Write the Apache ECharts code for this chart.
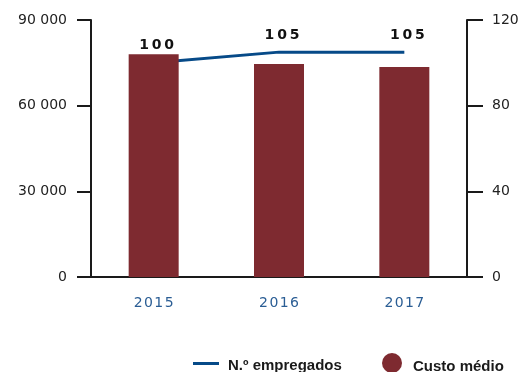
<!DOCTYPE html>
<html>
<head>
<meta charset="utf-8">
<script src="https://cdn.jsdelivr.net/npm/echarts@6/dist/echarts.min.js"></script>
<style>
  html, body { margin: 0; padding: 0; background: #fff; }
  #chart { width: 526px; height: 372px; }
</style>
</head>
<body>
<div id="chart"></div>
<script>
// Average cost per employee and headcount, 2015–2017
const years = ['2015', '2016', '2017'];
const custoMedio = [78000, 74600, 73500];
const empregados = [100, 105, 105];
const leftTicks = { min: 0, max: 90000, interval: 30000 };
const rightTicks = { min: 0, max: 120, interval: 40 };

const axisColor = '#1a1a1a';
const thousands = v => String(v).replace(/\B(?=(\d{3})+(?!\d))/g, ' ');
const spaced = v => String(v).split('').join('\u2009');
const legendText = (shift, gap) => ({
  fontFamily: 'Liberation Sans', fontWeight: 'bold', fontSize: 15, color: '#1a1a1a',
  rich: { t: { fontFamily: 'Liberation Sans', fontWeight: 'bold', fontSize: 15, color: '#1a1a1a',
               padding: [shift, 0, 0, gap] } }
});

const chart = echarts.init(document.getElementById('chart'), null, { renderer: 'canvas' });
chart.setOption({
  animation: false,
  grid: { left: 91, right: 59, top: 20, bottom: 95 },
  legend: [
    {
      data: ['N.º empregados'],
      left: 193, top: 358, padding: 0,
      icon: 'rect', itemWidth: 26, itemHeight: 3,
      formatter: '{t|{name}}',
      textStyle: legendText(4, 4)
    },
    {
      data: ['Custo médio'],
      left: 382, top: 353, padding: 0,
      icon: 'circle', itemWidth: 20, itemHeight: 20,
      formatter: '{t|{name}}',
      textStyle: legendText(7, 6)
    }
  ],
  xAxis: {
    type: 'category',
    data: years,
    axisLine: { lineStyle: { color: axisColor, width: 2 } },
    axisTick: { show: false },
    axisLabel: { color: '#2a5d94', fontFamily: 'DejaVu Sans', fontSize: 14, margin: 19,
                 formatter: v => v.split('').join('\u200A') }
  },
  yAxis: [
    {
      type: 'value',
      min: leftTicks.min, max: leftTicks.max, interval: leftTicks.interval,
      axisLine: { show: true, lineStyle: { color: axisColor, width: 2 } },
      axisTick: { show: true, length: 14, lineStyle: { color: axisColor, width: 2 } },
      splitLine: { show: false },
      axisLabel: { color: '#222', fontFamily: 'DejaVu Sans', fontSize: 14, margin: 24, formatter: thousands }
    },
    {
      type: 'value',
      min: rightTicks.min, max: rightTicks.max, interval: rightTicks.interval,
      axisLine: { show: true, lineStyle: { color: axisColor, width: 2 } },
      axisTick: { show: true, length: 16, lineStyle: { color: axisColor, width: 2 } },
      splitLine: { show: false },
      axisLabel: { color: '#222', fontFamily: 'DejaVu Sans', fontSize: 14, margin: 25 }
    }
  ],
  series: [
    {
      name: 'Custo médio',
      type: 'bar',
      data: custoMedio,
      yAxisIndex: 0,
      barWidth: 50,
      z: 3,
      itemStyle: { color: '#7e2a30' }
    },
    {
      name: 'N.º empregados',
      type: 'line',
      data: empregados,
      yAxisIndex: 1,
      z: 2,
      symbol: 'circle',
      symbolSize: 0,
      showSymbol: true,
      lineStyle: { color: '#064a88', width: 3 },
      itemStyle: { color: '#064a88' },
      label: {
        show: true, position: 'top', distance: 10, offset: [3, 0],
        color: '#111', fontFamily: 'DejaVu Sans', fontWeight: 'bold', fontSize: 14,
        formatter: p => spaced(p.value)
      }
    }
  ]
});
</script>
</body>
</html>
